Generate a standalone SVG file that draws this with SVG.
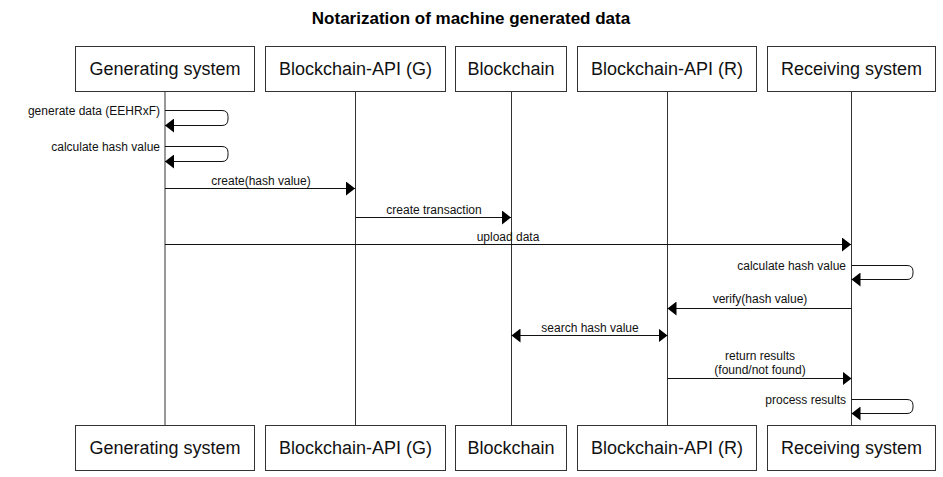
<svg xmlns="http://www.w3.org/2000/svg" width="943" height="477" viewBox="0 0 943 477">
  <style>
    .box { fill: #ffffff; stroke: #333333; stroke-width: 1; }
    .life { stroke: #333333; stroke-width: 1; fill: none; }
    .name { font-family: "Liberation Sans", Arial, sans-serif; font-size: 18px; fill: #111111; text-anchor: middle; }
    .msg { stroke: #111111; stroke-width: 1; fill: none; marker-end: url(#head); }
    .lbl { font-family: "Liberation Sans", Arial, sans-serif; font-size: 12px; fill: #111111; text-anchor: middle; }
    .lbl-r { text-anchor: end; }
    .title { font-family: "Liberation Sans", Arial, sans-serif; font-size: 17px; font-weight: bold; fill: #000000; text-anchor: middle; }
  </style>
  <defs>
    <marker id="head" markerUnits="userSpaceOnUse" markerWidth="10" markerHeight="14" refX="9" refY="7" orient="auto-start-reverse" viewBox="0 0 10 14">
      <path d="M0,0 L9,7 L0,14 Z" fill="#000000"/>
    </marker>
  </defs>

  <rect width="943" height="477" fill="#ffffff"/>

  <text class="title" x="471" y="24">Notarization of machine generated data</text>

  <!-- participants: header box, footer box and lifeline -->
  <g id="generating-system">
    <line class="life" x1="165" y1="90" x2="165" y2="425"/>
    <rect class="box" x="75.5" y="46.5" width="179" height="45"/>
    <text class="name" x="165" y="75">Generating system</text>
    <rect class="box" x="75.5" y="425.5" width="179" height="45"/>
    <text class="name" x="165" y="454">Generating system</text>
  </g>

  <g id="blockchain-api-g">
    <line class="life" x1="355.5" y1="90" x2="355.5" y2="425"/>
    <rect class="box" x="265.5" y="46.5" width="180" height="45"/>
    <text class="name" x="355.5" y="75">Blockchain-API (G)</text>
    <rect class="box" x="265.5" y="425.5" width="180" height="45"/>
    <text class="name" x="355.5" y="454">Blockchain-API (G)</text>
  </g>

  <g id="blockchain">
    <line class="life" x1="511.5" y1="90" x2="511.5" y2="425"/>
    <rect class="box" x="455.5" y="46.5" width="111" height="45"/>
    <text class="name" x="511" y="75">Blockchain</text>
    <rect class="box" x="455.5" y="425.5" width="111" height="45"/>
    <text class="name" x="511" y="454">Blockchain</text>
  </g>

  <g id="blockchain-api-r">
    <line class="life" x1="667.5" y1="90" x2="667.5" y2="425"/>
    <rect class="box" x="577.5" y="46.5" width="179" height="45"/>
    <text class="name" x="667" y="75">Blockchain-API (R)</text>
    <rect class="box" x="577.5" y="425.5" width="179" height="45"/>
    <text class="name" x="667" y="454">Blockchain-API (R)</text>
  </g>

  <g id="receiving-system">
    <line class="life" x1="851.5" y1="90" x2="851.5" y2="425"/>
    <rect class="box" x="767.5" y="46.5" width="168" height="45"/>
    <text class="name" x="851.5" y="75">Receiving system</text>
    <rect class="box" x="767.5" y="425.5" width="168" height="45"/>
    <text class="name" x="851.5" y="454">Receiving system</text>
  </g>

  <!-- messages -->
  <g id="connectors">
    <path class="msg" d="M165,110.5 H222 Q228,110.5 228,116.5 V119 Q228,125.5 222,125.5 H165"/>
    <text class="lbl lbl-r" x="160" y="115">generate data (EEHRxF)</text>

    <path class="msg" d="M165,146.5 H222 Q228,146.5 228,152.5 V155 Q228,161.5 222,161.5 H165"/>
    <text class="lbl lbl-r" x="160" y="151">calculate hash value</text>

    <path class="msg" d="M165,188.5 H355"/>
    <text class="lbl" x="261" y="185">create(hash value)</text>

    <path class="msg" d="M355.5,217.5 H511"/>
    <text class="lbl" x="434" y="214">create transaction</text>

    <path class="msg" d="M165,244.5 H851"/>
    <text class="lbl" x="508" y="241">upload data</text>

    <path class="msg" d="M851.5,265.5 H907 Q913,265.5 913,271.5 V273 Q913,279.5 907,279.5 H851.5"/>
    <text class="lbl lbl-r" x="846" y="270">calculate hash value</text>

    <path class="msg" d="M851.5,308.5 H667.5"/>
    <text class="lbl" x="760" y="303">verify(hash value)</text>

    <path class="msg" d="M511.5,335.5 H667.5" marker-start="url(#head)"/>
    <text class="lbl" x="590" y="332">search hash value</text>

    <path class="msg" d="M667.5,378.5 H851.5"/>
    <text class="lbl" x="760" y="360">return results</text>
    <text class="lbl" x="760" y="374">(found/not found)</text>

    <path class="msg" d="M851.5,399.5 H907 Q913,399.5 913,405.5 V407 Q913,413.5 907,413.5 H851.5"/>
    <text class="lbl lbl-r" x="846" y="404">process results</text>
  </g>
</svg>
